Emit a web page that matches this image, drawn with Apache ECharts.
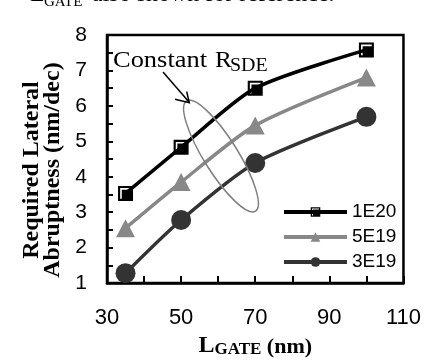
<!DOCTYPE html>
<html><head><meta charset="utf-8">
<script src="https://cdn.jsdelivr.net/npm/echarts@6/dist/echarts.min.js"></script>
<style>html,body{margin:0;padding:0;background:#fff}#c{width:424px;height:363px}</style>
</head><body><div id="c"></div>
<script>
// ---- data ----
const lgate = [35, 50, 70, 100];
const s1E20 = [3.53, 4.83, 6.5, 7.58];
const s5E19 = [2.55, 3.85, 5.45, 6.8];
const s3E19 = [1.28, 2.78, 4.39, 5.69];
const seriesNames = ['1E20', '5E19', '3E19'];
const xTickLabels = [30, 50, 70, 90, 110];
const yTickLabels = [1, 2, 3, 4, 5, 6, 7, 8];

const sans = 'Liberation Sans, Arial, sans-serif';
const serif = 'Liberation Serif, Times New Roman, serif';
function pairs(ys) { return lgate.map((x, i) => [x, ys[i]]); }

const chart = echarts.init(document.getElementById('c'), null, { renderer: 'canvas' });
const option = {
  animation: false,
  backgroundColor: '#fff',
  grid: { left: 107, top: 35, right: 19, bottom: 76, show: true, borderColor: '#000', borderWidth: 2.5, backgroundColor: 'transparent' },
  xAxis: {
    type: 'value', min: 30, max: 110, interval: 10,
    axisLine: { show: true, onZero: false, lineStyle: { color: '#000', width: 2.5 } },
    axisTick: { show: true, inside: true, length: 7, lineStyle: { color: '#000', width: 2 } },
    axisLabel: { margin: 24, fontFamily: sans, fontSize: 22, color: '#000',
      formatter: v => xTickLabels.includes(v) ? String(v) : '' },
    splitLine: { show: false },
    name: '{L|L}{g|GATE}{n| (nm)}', nameLocation: 'middle', nameGap: 47,
    nameTextStyle: {
      rich: {
        L: { fontFamily: serif, fontWeight: 'bold', fontSize: 24, lineHeight: 24, color: '#000', verticalAlign: 'bottom' },
        g: { fontFamily: serif, fontWeight: 'bold', fontSize: 17, lineHeight: 17, color: '#000', verticalAlign: 'bottom' },
        n: { fontFamily: serif, fontWeight: 'bold', fontSize: 22, lineHeight: 22, color: '#000', verticalAlign: 'bottom' }
      }
    }
  },
  yAxis: {
    type: 'value', min: 1, max: 8, interval: 0.5,
    axisLine: { show: true, onZero: false, lineStyle: { color: '#000', width: 2.5 } },
    axisTick: { show: true, inside: true, length: 6, lineStyle: { color: '#000', width: 2 } },
    axisLabel: { margin: 20, fontFamily: sans, fontSize: 21, color: '#000',
      formatter: v => yTickLabels.includes(v) ? String(v) : '' },
    splitLine: { show: false },
    name: 'Required Lateral\nAbruptness (nm/dec)', nameLocation: 'middle', nameGap: 39, nameRotate: 90,
    nameTextStyle: { fontFamily: serif, fontWeight: 'bold', fontSize: 24, lineHeight: 21, color: '#000', padding: [0, 22, 0, 0] }
  },
  legend: {
    orient: 'vertical', left: 282, top: 202, padding: 0, itemGap: 5,
    itemWidth: 63, itemHeight: 12,
    lineStyle: { width: 4 },
    textStyle: { fontFamily: sans, fontSize: 19, lineHeight: 20, color: '#000' },
    data: seriesNames
  },
  series: [
    { name: seriesNames[0], type: 'line', data: pairs(s1E20), smooth: 0.25,
      symbol: 'path://M0 0H14V14H0Z M2 2V12H3.5V3.5H12V2Z', symbolSize: 15, symbolKeepAspect: true,
      lineStyle: { color: '#000', width: 3.5 }, itemStyle: { color: '#000' }, z: 4 },
    { name: seriesNames[1], type: 'line', data: pairs(s5E19), smooth: 0.25,
      symbol: 'triangle', symbolSize: [19, 18],
      lineStyle: { color: '#888888', width: 3.5 }, itemStyle: { color: '#888888' }, z: 3 },
    { name: seriesNames[2], type: 'line', data: pairs(s3E19), smooth: 0.25,
      symbol: 'circle', symbolSize: 20,
      lineStyle: { color: '#333333', width: 3.5 }, itemStyle: { color: '#333333' }, z: 2 }
  ],
  graphic: [
    { type: 'ellipse', x: 221, y: 156, rotation: -58 * Math.PI / 180,
      shape: { cx: 0, cy: 0, rx: 65, ry: 17 },
      style: { fill: 'none', stroke: '#808080', lineWidth: 1.5 }, z: 10 },
    { type: 'polyline', shape: { points: [[163, 72], [189, 102]] },
      style: { stroke: '#000', lineWidth: 1.5, fill: 'none' }, z: 11 },
    { type: 'polyline', shape: { points: [[175, 99.3], [189.3, 102.7], [186.7, 91.7]] },
      style: { stroke: '#000', lineWidth: 1.5, fill: 'none' }, z: 11 },
    { type: 'text', x: 113, y: 61, scaleX: 1.15, z: 12,
      style: { text: 'Constant', font: '23px ' + serif, fill: '#000', textAlign: 'left', textVerticalAlign: 'middle', align: 'left', verticalAlign: 'middle' } },
    { type: 'text', x: 215, y: 61, scaleX: 1.1, z: 12,
      style: { text: 'R', font: '23px ' + serif, fill: '#000', textAlign: 'left', textVerticalAlign: 'middle', align: 'left', verticalAlign: 'middle' } },
    { type: 'text', x: 230, y: 66, scaleX: 1.05, z: 12,
      style: { text: 'SDE', font: '19px ' + serif, fill: '#000', textAlign: 'left', textVerticalAlign: 'middle', align: 'left', verticalAlign: 'middle' } },
    { type: 'text', x: 30, y: -5.4, z: 12,
      style: { text: 'L', font: '24px ' + serif, fill: '#000', textAlign: 'left', textVerticalAlign: 'middle', align: 'left', verticalAlign: 'middle' } },
    { type: 'text', x: 44, y: 1.7, z: 12,
      style: { text: 'GATE', font: '15px ' + serif, fill: '#000', textAlign: 'left', textVerticalAlign: 'middle', align: 'left', verticalAlign: 'middle' } },
    { type: 'text', x: 92, y: -5.4, z: 12,
      style: { text: 'also shown for reference.', font: '24px ' + serif, fill: '#000', textAlign: 'left', textVerticalAlign: 'middle', align: 'left', verticalAlign: 'middle' } }
  ]
};
chart.setOption(option);
</script>
</body></html>
